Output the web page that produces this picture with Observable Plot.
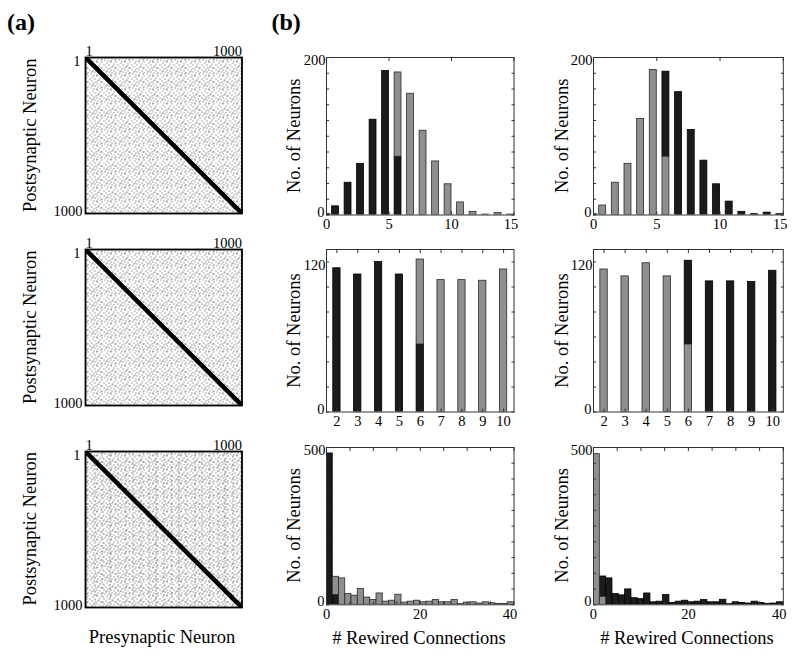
<!DOCTYPE html>
<html><head><meta charset="utf-8">
<script src="https://cdn.jsdelivr.net/npm/d3@7"></script>
<script src="https://cdn.jsdelivr.net/npm/@observablehq/plot@0.6"></script>
<style>
html,body{margin:0;padding:0;background:#fff;}
#fig{position:relative;width:795px;height:656px;overflow:hidden;}
#fig svg{position:absolute;}
</style></head><body><div id="fig"></div>
<script>
// ---------------- DATA ----------------
const neuronRange = [1, 1000];                       // matrix axes (neuron index)
const diagonal = [{pre: 1, post: 1}, {pre: 1000, post: 1000}];

// Row 1: in-degree histograms (number of connections per neuron)
const degreeBins = [0,1,2,3,4,5,6,7,8,9,10,11,12,13,14,15];
const degLeftBlack  = [1, 11, 41, 65, 121, 183, 74, 0, 0, 0, 0, 0, 0, 0, 0, 0];
const degLeftGray   = [0, 0, 0, 0, 0, 0, 107, 154, 107, 68, 39, 16, 4, 0.5, 2.5, 0.5];
const degRightGray  = [1, 12, 41, 65, 122, 184, 74, 0, 0, 0, 0, 0, 0, 0, 0, 0];
const degRightBlack = [0, 0, 0, 0, 0, 0, 108, 156, 108, 69, 39, 17, 4, 1, 3, 1];

// Row 2: ring-lattice histograms
const ringBins = [2,3,4,5,6,7,8,9,10];
const ringLeftBlack  = [115, 110, 120, 110, 54, 0, 0, 0, 0];
const ringLeftGray   = [0, 0, 0, 0, 68, 105.5, 105.5, 105, 114];
const ringRightGray  = [114, 108.5, 119, 108.5, 54, 0, 0, 0, 0];
const ringRightBlack = [0, 0, 0, 0, 67, 104.5, 104.5, 104, 113];

// Row 3: rewired connections histograms (30 bins over 0..40)
const rewiredLeftBlack = [481, 31, 0,0,0,0,0,0,0,0,0,0,0,0,0,0,0,0,0,0,0,0,0,0,0,0,0,0,0,0];
const rewiredLeftGray  = [0, 58, 84, 34, 29, 50, 23, 15, 36, 10, 13, 32, 7, 10, 13, 8, 10, 15, 8, 8, 15, 2, 7, 8, 4, 8, 5, 3, 3, 8];
const rewiredRightGray = [479, 25, 0,0,0,0,0,0,0,0,0,0,0,0,0,0,0,0,0,0,0,0,0,0,0,0,0,0,0,0];
const rewiredRightBlack= [0, 65, 84, 34, 30, 49, 21, 18, 36, 8, 10, 31, 6, 10, 13, 8, 10, 15, 8, 8, 16, 2, 8, 6, 4, 10, 6, 3, 4, 8];
const rewiredRange = [0, 40];

// tick labels / tick marks
const degXLabels = [0, 5, 10, 15], degYLabels = [0, 200], degYTicks = d3.range(0, 201, 20);
const ringYLabels = [0, 120], ringYTicks = d3.range(0, 121, 20);
const rewXLabels = [0, 20, 40], rewXTicks = d3.range(0, 41, 5), rewYLabels = [0, 500], rewYTicks = d3.range(0, 501, 50);

// ---------------- STYLE ----------------
const FONT = '"Liberation Serif","Times New Roman",serif';
const TICKFS = 14.5;
const BLACK = "#1b1b1b", GRAY = "#8f8f8f", EDGE = "#2a2a2a";
const fig = document.getElementById("fig");

// stipple patterns for connectivity matrices (texture only)
const defs = d3.select(fig).append("svg").attr("width", 0).attr("height", 0).style("left", 0).style("top", 0).append("defs");
const pat = defs.append("pattern").attr("id", "stip").attr("patternUnits", "userSpaceOnUse").attr("width", 14).attr("height", 14);
pat.append("rect").attr("width", 14).attr("height", 14).attr("fill", "#fff");
const stippleDots = [[0,0],[5,1],[9,0],[12,2],[2,3],[7,3],[10,5],[4,5],[13,6],[0,6],[6,7],[2,8],[9,8],[12,9],[4,10],[7,10],[0,11],[10,11],[13,12],[3,12],[6,13],[9,13],[11,4],[8,6],[5,9]];
stippleDots.forEach(([x, y]) => pat.append("rect").attr("x", x).attr("y", y).attr("width", 1).attr("height", 1).attr("fill", "#555"));
const streak = defs.append("pattern").attr("id", "streak").attr("patternUnits", "userSpaceOnUse").attr("width", 23).attr("height", 9);
[[3,1],[3,5],[11,3],[11,7],[18,0],[18,4],[18,7]].forEach(([x, y]) => streak.append("rect").attr("x", x).attr("y", y).attr("width", 1).attr("height", 1).attr("fill", "#666"));

function place(svg, fx, fy, m) {
  svg.style.left = (fx - m.left) + "px";
  svg.style.top = (fy - m.top) + "px";
  fig.appendChild(svg);
}

const baseStyle = {fontFamily: FONT, fontSize: TICKFS + "px", background: "transparent", overflow: "visible", color: "#000"};

function matrixPanel(fy, streaks) {
  const m = {top: 24, right: 8, bottom: 8, left: 40};
  const fx = 84.5, fw = 156.5, fh = 156;
  const ax = {tickSize: 0, label: null, fontSize: TICKFS, tickFormat: d3.format("d")};
  const svg = Plot.plot({
    width: fw + m.left + m.right, height: fh + m.top + m.bottom,
    marginTop: m.top, marginRight: m.right, marginBottom: m.bottom, marginLeft: m.left,
    x: {domain: neuronRange}, y: {domain: neuronRange, reverse: true},
    style: baseStyle,
    marks: [
      Plot.frame({fill: "url(#stip)", stroke: "none"}),
      streaks ? Plot.frame({fill: "url(#streak)", stroke: "none"}) : null,
      Plot.line(diagonal, {x: "pre", y: "post", stroke: "#000", strokeWidth: 4.5, clip: true}),
      Plot.frame({stroke: "#000", strokeWidth: 1.8}),
      Plot.axisX([neuronRange[0]], {...ax, anchor: "top", tickPadding: 2, textAnchor: "start"}),
      Plot.axisX([neuronRange[1]], {...ax, anchor: "top", tickPadding: 2, textAnchor: "end"}),
      Plot.axisY([neuronRange[0]], {...ax, anchor: "left", tickPadding: 5, dy: 4}),
      Plot.axisY([neuronRange[1]], {...ax, anchor: "left", tickPadding: 3, dy: -2})
    ]
  });
  place(svg, fx, fy, m);
}

function stacked(bins, lower, upper, lowerFill, upperFill, span) {
  const out = [];
  bins.forEach((b, i) => {
    const [x1, x2] = span(b, i);
    if (lower[i] > 0) out.push({x1, x2, y1: 0, y2: lower[i], fill: lowerFill});
    if (upper[i] > 0) out.push({x1, x2, y1: lower[i], y2: lower[i] + upper[i], fill: upperFill});
  });
  return out;
}

function histPanel({fx, fy, fw, fh, xDomain, yDomain, bars, xLabels, xTicks, yLabels, yTicks, lastDx = 0}) {
  const m = {top: 8, right: 8, bottom: 24, left: 36};
  const inward = (anchor, ticks, isX) => (isX ? Plot.axisX : Plot.axisY)(ticks, {anchor, tickSize: -3, tickFormat: () => "", label: null, stroke: "#333"});
  const lab = {tickSize: 0, label: null, fontSize: TICKFS, tickFormat: d3.format("d")};
  const svg = Plot.plot({
    width: fw + m.left + m.right, height: fh + m.top + m.bottom,
    marginTop: m.top, marginRight: m.right, marginBottom: m.bottom, marginLeft: m.left,
    x: {domain: xDomain}, y: {domain: yDomain},
    style: baseStyle,
    marks: [
      Plot.rect(bars.filter(d => d.fill === BLACK), {x1: "x1", x2: "x2", y1: "y1", y2: "y2", fill: BLACK, stroke: "#000", strokeWidth: 0.8, clip: true}),
      Plot.rect(bars.filter(d => d.fill === GRAY), {x1: "x1", x2: "x2", y1: "y1", y2: "y2", fill: GRAY, stroke: EDGE, strokeWidth: 0.8, clip: true}),
      inward("bottom", xTicks, true), inward("top", xTicks, true),
      inward("left", yTicks, false), inward("right", yTicks, false),
      Plot.frame({stroke: "#333", strokeWidth: 1}),
      Plot.axisX(xLabels.slice(0, -1), {...lab, anchor: "bottom", tickPadding: 4}),
      Plot.axisX(xLabels.slice(-1), {...lab, anchor: "bottom", tickPadding: 4, dx: lastDx}),
      Plot.axisY([yLabels[0]], {...lab, anchor: "left", tickPadding: 2, dy: -3}),
      Plot.axisY([yLabels[1]], {...lab, anchor: "left", tickPadding: 1, dy: 3})
    ]
  });
  place(svg, fx, fy, m);
}

// ---------------- PANELS ----------------
const matrixTops = [57.3, 249.3, 450.7];
matrixTops.forEach((fy, i) => matrixPanel(fy, i === 2));

const cols = [{fx: 325.5, fw: 187.5}, {fx: 592.7, fw: 189.8}];
const rows = [{fy: 57, fh: 157.5}, {fy: 249.3, fh: 162.5}, {fy: 446.7, fh: 157.3}];

const degSpan = (k) => [Math.max(0, k - 0.55), k === 0 ? 0.3 : k];
const ringSpan = (k) => [k - 0.175, k + 0.175];
const rewEdges = d3.range(31).map(i => rewiredRange[0] + i * (rewiredRange[1] - rewiredRange[0]) / 30);
const rewSpan = (b, i) => [rewEdges[i], rewEdges[i + 1]];

histPanel({...cols[0], ...rows[0], xDomain: [0, 15], yDomain: [0, 200], lastDx: -3,
  bars: stacked(degreeBins, degLeftBlack, degLeftGray, BLACK, GRAY, degSpan),
  xLabels: degXLabels, xTicks: degXLabels, yLabels: degYLabels, yTicks: degYTicks});
histPanel({...cols[1], ...rows[0], xDomain: [0, 15], yDomain: [0, 200], lastDx: -3,
  bars: stacked(degreeBins, degRightGray, degRightBlack, GRAY, BLACK, degSpan),
  xLabels: degXLabels, xTicks: degXLabels, yLabels: degYLabels, yTicks: degYTicks});

histPanel({...cols[0], ...rows[1], xDomain: [1.5, 10.5], yDomain: [0, 130],
  bars: stacked(ringBins, ringLeftBlack, ringLeftGray, BLACK, GRAY, ringSpan),
  xLabels: ringBins, xTicks: ringBins, yLabels: ringYLabels, yTicks: ringYTicks});
histPanel({...cols[1], ...rows[1], xDomain: [1.5, 10.5], yDomain: [0, 130],
  bars: stacked(ringBins, ringRightGray, ringRightBlack, GRAY, BLACK, ringSpan),
  xLabels: ringBins, xTicks: ringBins, yLabels: ringYLabels, yTicks: ringYTicks});

const rewBins = d3.range(30);
histPanel({...cols[0], ...rows[2], xDomain: rewiredRange, yDomain: [0, 500], lastDx: -4,
  bars: stacked(rewBins, rewiredLeftBlack, rewiredLeftGray, BLACK, GRAY, rewSpan),
  xLabels: rewXLabels, xTicks: rewXTicks, yLabels: rewYLabels, yTicks: rewYTicks});
histPanel({...cols[1], ...rows[2], xDomain: rewiredRange, yDomain: [0, 500], lastDx: -4,
  bars: stacked(rewBins, rewiredRightGray, rewiredRightBlack, GRAY, BLACK, rewSpan),
  xLabels: rewXLabels, xTicks: rewXTicks, yLabels: rewYLabels, yTicks: rewYTicks});

// ---------------- TEXT OVERLAY ----------------
const ov = d3.select(fig).append("svg").attr("width", 795).attr("height", 656)
  .style("left", 0).style("top", 0).style("pointer-events", "none")
  .attr("font-family", FONT).attr("fill", "#000");
ov.append("text").attr("x", 7).attr("y", 29.5).attr("font-size", 24).attr("font-weight", "bold").text("(a)");
ov.append("text").attr("x", 271.5).attr("y", 29.5).attr("font-size", 24).attr("font-weight", "bold").text("(b)");
const rowCenters = [135.3, 327.3, 528.7];
rowCenters.forEach(c => ov.append("text").attr("transform", `translate(35.5,${c}) rotate(-90)`)
  .attr("text-anchor", "middle").attr("font-size", 18.5).text("Postsynaptic Neuron"));
rows.forEach(r => [300, 568].forEach(x => ov.append("text")
  .attr("transform", `translate(${x},${r.fy + r.fh / 2}) rotate(-90)`)
  .attr("text-anchor", "middle").attr("font-size", 18.5).text("No. of Neurons")));
ov.append("text").attr("x", 162).attr("y", 643).attr("text-anchor", "middle").attr("font-size", 18.5).text("Presynaptic Neuron");
[419, 687].forEach(x => ov.append("text").attr("x", x).attr("y", 644).attr("text-anchor", "middle").attr("font-size", 18.5).text("# Rewired Connections"));
</script></body></html>
